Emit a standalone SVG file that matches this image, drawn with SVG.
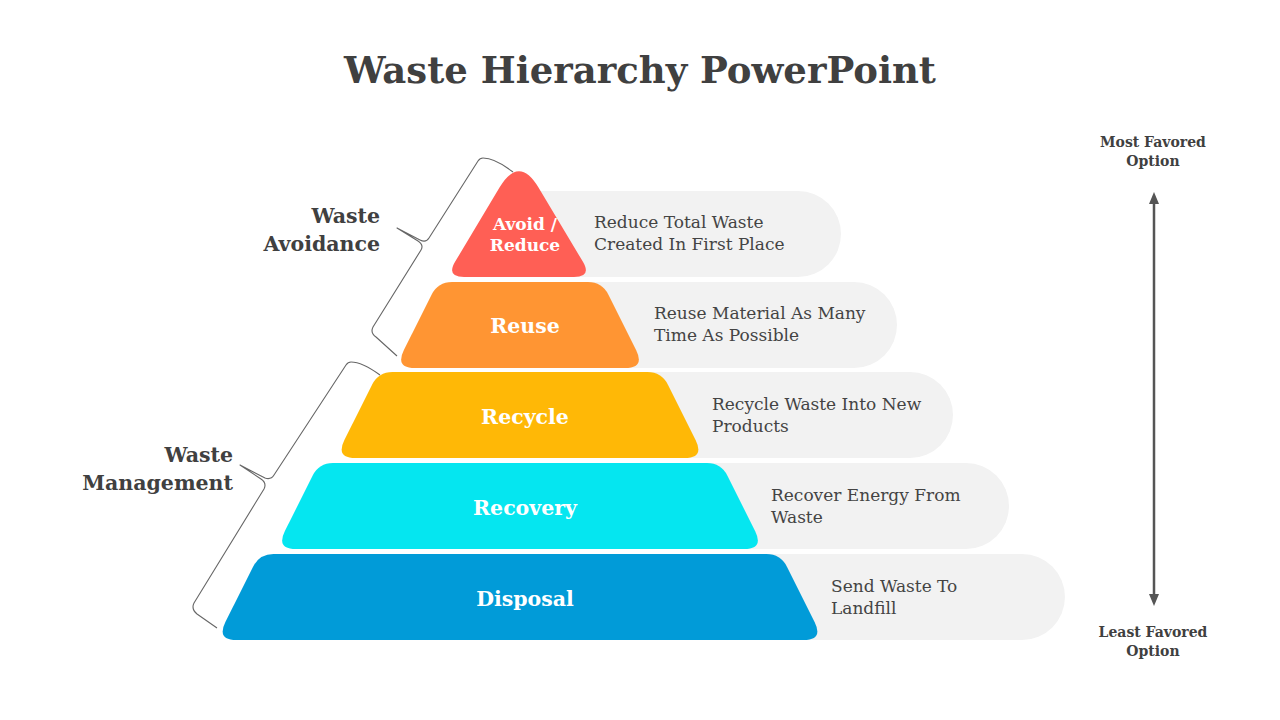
<svg xmlns="http://www.w3.org/2000/svg" width="1280" height="720" viewBox="0 0 1280 720">
<defs>
<style>
.title{font-family:"DejaVu Serif","Liberation Serif",serif;font-weight:bold;font-size:37px;fill:#404040;text-anchor:middle}
.side{font-family:"DejaVu Serif","Liberation Serif",serif;font-weight:bold;font-size:20.5px;fill:#404040;text-anchor:end}
.lbl{font-family:"DejaVu Serif","Liberation Serif",serif;font-weight:bold;font-size:20.5px;fill:#ffffff;text-anchor:middle}
.lbls{font-family:"DejaVu Serif","Liberation Serif",serif;font-weight:bold;font-size:17px;fill:#ffffff;text-anchor:middle}
.desc{font-family:"DejaVu Serif","Liberation Serif",serif;font-size:17px;fill:#444444}
.opt{font-family:"DejaVu Serif","Liberation Serif",serif;font-weight:bold;font-size:14px;fill:#404040;text-anchor:middle}
.band{fill:#f2f2f2}
.brace{fill:none;stroke:#666666;stroke-width:1.1;stroke-linejoin:round}
</style>
</defs>
<rect width="1280" height="720" fill="#ffffff"/>
<text class="title" x="640" y="83">Waste Hierarchy PowerPoint</text>

<g id="bands">
<path class="band" d="M 520 191 H 798 A 43 43 0 0 1 798 277 H 520 Z"/>
<path class="band" d="M 520 282 H 854 A 43 43 0 0 1 854 368 H 520 Z"/>
<path class="band" d="M 520 372 H 910 A 43 43 0 0 1 910 458 H 520 Z"/>
<path class="band" d="M 520 463 H 966 A 43 43 0 0 1 966 549 H 520 Z"/>
<path class="band" d="M 520 554 H 1022 A 43 43 0 0 1 1022 640 H 520 Z"/>
</g>

<g id="avoid">
<path fill="#ff5f55" d="M 499.5 187.6 Q 519 155 538.5 187.6 L 582.8 261.6 Q 592 277 574 277 L 464 277 Q 446 277 455.2 261.6 Z"/>
<text class="lbls" x="525" y="230">Avoid /</text>
<text class="lbls" x="525" y="251">Reduce</text>
<text class="desc" x="594" y="228">Reduce Total Waste</text>
<text class="desc" x="594" y="250">Created In First Place</text>
</g>

<g id="reuse">
<path fill="#ff9533" d="M 452 282 L 588 282 Q 602 282 608.3 294.5 L 636.1 350.1 Q 645 368 625 368 L 415 368 Q 395 368 403.9 350.1 L 431.7 294.5 Q 438 282 452 282 Z"/>
<text class="lbl" x="525" y="333">Reuse</text>
<text class="desc" x="654" y="319">Reuse Material As Many</text>
<text class="desc" x="654" y="341">Time As Possible</text>
</g>

<g id="recycle">
<path fill="#ffb806" d="M 392.5 372 L 647.5 372 Q 661.5 372 667.8 384.5 L 695.6 440.1 Q 704.5 458 684.5 458 L 355.5 458 Q 335.5 458 344.4 440.1 L 372.2 384.5 Q 378.5 372 392.5 372 Z"/>
<text class="lbl" x="525" y="424">Recycle</text>
<text class="desc" x="712" y="410">Recycle Waste Into New</text>
<text class="desc" x="712" y="432">Products</text>
</g>

<g id="recovery">
<path fill="#05e6f0" d="M 333 463 L 707 463 Q 721 463 727.3 475.5 L 755.1 531.1 Q 764 549 744 549 L 296 549 Q 276 549 284.9 531.1 L 312.7 475.5 Q 319 463 333 463 Z"/>
<text class="lbl" x="525" y="515">Recovery</text>
<text class="desc" x="771" y="501">Recover Energy From</text>
<text class="desc" x="771" y="523">Waste</text>
</g>

<g id="disposal">
<path fill="#019bd8" d="M 273.5 554 L 766.5 554 Q 780.5 554 786.8 566.5 L 814.6 622.1 Q 823.5 640 803.5 640 L 236.5 640 Q 216.5 640 225.4 622.1 L 253.2 566.5 Q 259.5 554 273.5 554 Z"/>
<text class="lbl" x="525" y="606">Disposal</text>
<text class="desc" x="831" y="592">Send Waste To</text>
<text class="desc" x="831" y="614">Landfill</text>
</g>

<g id="waste-avoidance">
<text class="side" x="380" y="223">Waste</text>
<text class="side" x="380" y="251">Avoidance</text>
</g>
<g id="waste-management">
<text class="side" x="233" y="462">Waste</text>
<text class="side" x="233" y="490">Management</text>
</g>

<g id="connectors">
<path class="brace" d="M 513 172 Q 495 158 483 158 Q 480 158 478 161 L 429 238 Q 426 243 420 240 L 397 228 L 418 241 Q 424 245 421 250 L 373 327 Q 370 333 376 337 L 397 356"/>
<path class="brace" d="M 380 375 Q 362 362 351 362 Q 348 362 346 365 L 274 475 Q 271 480 265 478 L 240 465 L 261 479 Q 267 483 264 489 L 194 603 Q 191 609 197 614 L 217 628"/>
<line x1="1154" y1="200" x2="1154" y2="598" stroke="#555555" stroke-width="2.5"/>
<polygon points="1154,192 1159,204 1149,204" fill="#555555"/>
<polygon points="1154,606 1159,594 1149,594" fill="#555555"/>
</g>

<g id="most-favored">
<text class="opt" x="1153" y="147">Most Favored</text>
<text class="opt" x="1153" y="166">Option</text>
</g>
<g id="least-favored">
<text class="opt" x="1153" y="637">Least Favored</text>
<text class="opt" x="1153" y="656">Option</text>
</g>
</svg>
